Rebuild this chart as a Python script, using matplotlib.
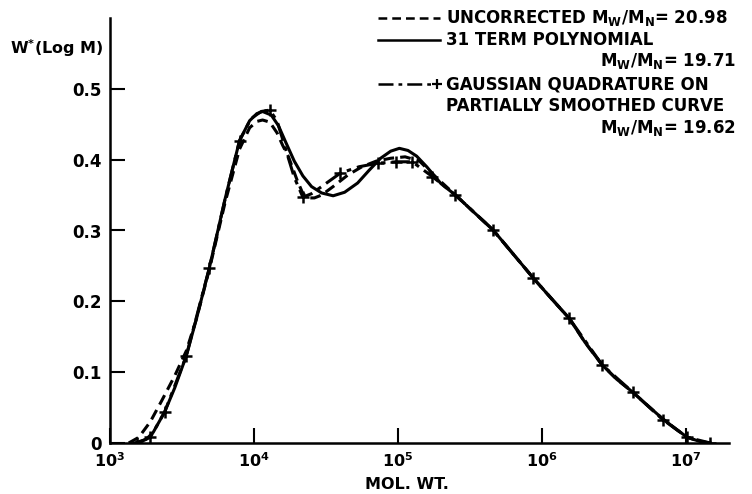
import matplotlib
matplotlib.use('Agg')
import matplotlib.pyplot as plt
from matplotlib.lines import Line2D
import numpy as np

plt.rcParams['font.family'] = ['DejaVu Sans']
plt.rcParams['font.weight'] = 'bold'
plt.rcParams['mathtext.default'] = 'bf'

# log10(M) values and W*(log M)
uncorr_logm = [3.13, 3.20, 3.28, 3.36, 3.45, 3.53, 3.60, 3.69, 3.80, 3.90, 3.97,
               4.02, 4.06, 4.11, 4.16, 4.20, 4.24, 4.30, 4.34, 4.38, 4.42, 4.47,
               4.55, 4.65, 4.75, 4.85, 4.95, 5.05, 5.15, 5.25, 5.40, 5.50, 5.66,
               5.80, 5.94, 6.07, 6.19, 6.30, 6.42, 6.52, 6.63, 6.74, 6.84, 6.93,
               7.01, 7.10, 7.17]
uncorr_w = [0.0, 0.008, 0.030, 0.060, 0.095, 0.130, 0.175, 0.245, 0.340, 0.415, 0.445,
            0.454, 0.456, 0.453, 0.438, 0.420, 0.404, 0.371, 0.352, 0.346, 0.346, 0.350,
            0.362, 0.378, 0.390, 0.398, 0.402, 0.404, 0.398, 0.378, 0.350, 0.331, 0.301,
            0.267, 0.233, 0.203, 0.176, 0.142, 0.110, 0.090, 0.072, 0.052, 0.034, 0.020,
            0.008, 0.002, 0.0]

poly_logm = [3.17, 3.25, 3.30, 3.38, 3.45, 3.53, 3.60, 3.69, 3.80, 3.90, 3.97,
             4.02, 4.06, 4.12, 4.17, 4.22, 4.28, 4.34, 4.40, 4.47, 4.55, 4.63,
             4.72, 4.80, 4.88, 4.95, 5.01, 5.07, 5.13, 5.20, 5.30, 5.40, 5.50,
             5.66, 5.80, 5.94, 6.07, 6.19, 6.30, 6.42, 6.52, 6.63, 6.74, 6.84,
             6.93, 7.01, 7.10, 7.17]
poly_w = [0.0, 0.005, 0.015, 0.044, 0.078, 0.123, 0.175, 0.247, 0.345, 0.427, 0.455,
          0.465, 0.468, 0.463, 0.448, 0.425, 0.398, 0.377, 0.362, 0.353, 0.349, 0.354,
          0.367, 0.385, 0.402, 0.412, 0.416, 0.413, 0.405, 0.390, 0.366, 0.350, 0.331,
          0.301, 0.267, 0.233, 0.203, 0.176, 0.142, 0.110, 0.090, 0.072, 0.052, 0.034,
          0.020, 0.008, 0.002, 0.0]

gauss_logm = [3.19, 3.28, 3.38, 3.53, 3.69, 3.80, 3.90, 3.98, 4.05, 4.11, 4.16,
              4.22, 4.28, 4.34, 4.40, 4.47, 4.60, 4.73, 4.86, 4.99, 5.10, 5.24,
              5.40, 5.66, 5.94, 6.19, 6.42, 6.63, 6.84, 7.01, 7.17]
gauss_w = [0.0, 0.008, 0.044, 0.123, 0.247, 0.345, 0.427, 0.458, 0.468, 0.470, 0.455,
           0.415, 0.375, 0.347, 0.352, 0.362, 0.381, 0.390, 0.395, 0.397, 0.397, 0.376,
           0.350, 0.301, 0.233, 0.176, 0.110, 0.072, 0.033, 0.008, 0.0]

# quadrature points marked with +
cross_logm = [3.19, 3.28, 3.38, 3.53, 3.69, 3.90, 4.11, 4.34, 4.60, 4.86, 4.99,
              5.10, 5.24, 5.40, 5.66, 5.94, 6.19, 6.42, 6.63, 6.84, 7.01, 7.17]
cross_w = [0.0, 0.008, 0.044, 0.123, 0.247, 0.427, 0.470, 0.347, 0.381, 0.395, 0.397,
           0.397, 0.376, 0.350, 0.301, 0.233, 0.176, 0.110, 0.072, 0.033, 0.008, 0.0]

y_ticks = [0, 0.1, 0.2, 0.3, 0.4, 0.5]
y_tick_labels = ['0', '0.1', '0.2', '0.3', '0.4', '0.5']
x_ticks = [1e3, 1e4, 1e5, 1e6, 1e7]
x_tick_labels = ['$10^3$', '$10^4$', '$10^5$', '$10^6$', '$10^7$']

fig = plt.figure(figsize=(7.52, 4.94), dpi=100)
ax = fig.add_axes([110 / 752, 1 - 443 / 494, 619 / 752, 425 / 494])

lw = 2.2
ax.plot(10 ** np.array(uncorr_logm), uncorr_w, color='black', lw=lw,
        linestyle=(0, (3.5, 2)))
ax.plot(10 ** np.array(poly_logm), poly_w, color='black', lw=lw, linestyle='-')
ax.plot(10 ** np.array(gauss_logm), gauss_w, color='black', lw=lw,
        linestyle=(0, (6, 2, 1.5, 2)))
ax.plot(10 ** np.array(cross_logm), cross_w, linestyle='none', marker='+',
        color='black', markersize=8, markeredgewidth=1.8)

ax.set_xscale('log')
ax.set_xlim(1e3, 10 ** 7.30)
ax.set_ylim(0, 0.60)
ax.minorticks_off()

ax.set_xticks(x_ticks)
ax.set_xticklabels(x_tick_labels, fontsize=11.5)
ax.set_yticks(y_ticks)
ax.set_yticklabels(y_tick_labels, fontsize=12)
ax.tick_params(axis='both', direction='in', length=11, width=1.5, color='black')
ax.tick_params(axis='x', pad=6)
ax.tick_params(axis='y', pad=6)

for s in ['top', 'right']:
    ax.spines[s].set_visible(False)
for s in ['left', 'bottom']:
    ax.spines[s].set_linewidth(1.8)

ax.set_xlabel('MOL. WT.', fontsize=11.5, fontweight='bold')
ax.xaxis.set_label_coords((407 - 110) / 619, -(484 - 443) / 425)
ax.xaxis.label.set_va('center')
fig.text(10 / 752, 1 - 48 / 494, 'W$^{*}$(Log M)', fontsize=11.5,
         fontweight='bold', va='center', ha='left')

# legend text block
tx = 446 / 752
fs = 12
def ypos(py):
    return 1 - py / 494

fig.text(tx, ypos(18), 'UNCORRECTED M$_{W}$/M$_{N}$= 20.98', fontsize=fs, va='center')
fig.text(tx, ypos(40), '31 TERM POLYNOMIAL', fontsize=fs, va='center')
fig.text(736 / 752, ypos(61), 'M$_{W}$/M$_{N}$= 19.71', fontsize=fs, va='center', ha='right')
fig.text(tx, ypos(84), 'GAUSSIAN QUADRATURE ON', fontsize=fs, va='center')
fig.text(tx, ypos(106), 'PARTIALLY SMOOTHED CURVE', fontsize=fs, va='center')
fig.text(736 / 752, ypos(128), 'M$_{W}$/M$_{N}$= 19.62', fontsize=fs, va='center', ha='right')

x0, x1 = 378 / 752, 440 / 752
fig.add_artist(Line2D([x0, x1], [ypos(18), ypos(18)], color='black', lw=1.8,
                      linestyle=(0, (3.5, 2))))
fig.add_artist(Line2D([x0, x1], [ypos(40), ypos(40)], color='black', lw=1.8))
fig.add_artist(Line2D([x0, x1 - 6 / 752], [ypos(84), ypos(84)], color='black', lw=1.8,
                      linestyle=(0, (6, 2, 1.5, 2))))
fig.add_artist(Line2D([x1 - 3 / 752], [ypos(84)], color='black', marker='+',
                      markersize=7, markeredgewidth=1.6))

fig.savefig('out.png', dpi=100)
